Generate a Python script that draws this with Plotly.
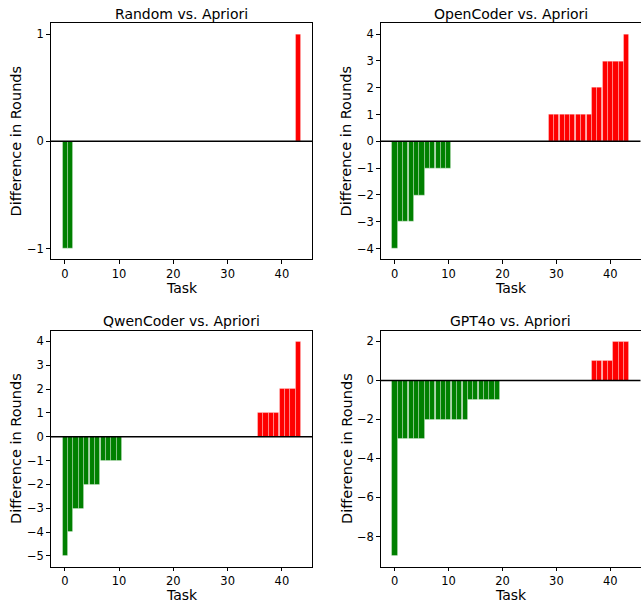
import plotly.graph_objects as go

tasks = list(range(44))

random_vs_apriori = [-1, -1, 0, 0, 0, 0, 0, 0, 0, 0, 0, 0, 0, 0, 0, 0, 0, 0, 0, 0, 0, 0,
                     0, 0, 0, 0, 0, 0, 0, 0, 0, 0, 0, 0, 0, 0, 0, 0, 0, 0, 0, 0, 0, 1]
opencoder_vs_apriori = [-4, -3, -3, -3, -2, -2, -1, -1, -1, -1, -1, 0, 0, 0, 0, 0, 0, 0, 0, 0, 0, 0,
                        0, 0, 0, 0, 0, 0, 0, 1, 1, 1, 1, 1, 1, 1, 1, 2, 2, 3, 3, 3, 3, 4]
qwencoder_vs_apriori = [-5, -4, -3, -3, -2, -2, -2, -1, -1, -1, -1, 0, 0, 0, 0, 0, 0, 0, 0, 0, 0, 0,
                        0, 0, 0, 0, 0, 0, 0, 0, 0, 0, 0, 0, 0, 0, 1, 1, 1, 1, 2, 2, 2, 4]
gpt4o_vs_apriori = [-9, -3, -3, -3, -3, -3, -2, -2, -2, -2, -2, -2, -2, -2, -1, -1, -1, -1, -1, -1, 0, 0,
                    0, 0, 0, 0, 0, 0, 0, 0, 0, 0, 0, 0, 0, 0, 0, 1, 1, 1, 1, 2, 2, 2]

titles = ["Random vs. Apriori", "OpenCoder vs. Apriori", "QwenCoder vs. Apriori", "GPT4o vs. Apriori"]
series = [random_vs_apriori, opencoder_vs_apriori, qwencoder_vs_apriori, gpt4o_vs_apriori]
y_ranges = [[-1.1, 1.1], [-4.4, 4.4], [-5.45, 4.45], [-9.55, 2.55]]
y_dticks = [1, 1, 1, 2]
x_label_text = "Task"
y_label_text = "Difference in Rounds"

W, H = 641, 602
# axes boxes in pixels: (left, right, top, bottom)
boxes = [(50.7, 312.3, 23.3, 259.3), (380.7, 640.5, 23.3, 259.3),
         (50.7, 312.3, 330.7, 566.7), (380.7, 640.5, 330.7, 566.7)]

FONT = "DejaVu Sans"
fig = go.Figure()
annotations = []
shapes = []
for i, (vals, title, yr, dt, box) in enumerate(zip(series, titles, y_ranges, y_dticks, boxes)):
    n = "" if i == 0 else str(i + 1)
    colors = ["green" if v < 0 else "red" for v in vals]
    fig.add_trace(go.Bar(x=tasks, y=vals, width=0.95,
                         marker=dict(color=colors, line=dict(width=0.3, color="white")),
                         xaxis="x" + n, yaxis="y" + n, showlegend=False))
    l, r, t, b = box
    xd = [l / W, r / W]
    yd = [1 - b / H, 1 - t / H]
    axcommon = dict(showline=True, linecolor="black", linewidth=1, mirror=True,
                    ticks="outside", ticklen=3.5, tickcolor="black", tickwidth=1,
                    showgrid=False, zeroline=False,
                    tickfont=dict(family=FONT, size=11.5, color="black"))
    fig.update_layout(**{
        "xaxis" + n: dict(domain=xd, range=[-2.6, 45.6], tickmode="linear", tick0=0, dtick=10,
                          anchor="y" + n, **axcommon),
        "yaxis" + n: dict(domain=yd, range=yr, tickmode="linear", tick0=0, dtick=dt,
                          anchor="x" + n, **axcommon),
    })
    shapes.append(dict(type="line", xref="x" + n + " domain", yref="y" + n, x0=0, x1=1, y0=0, y1=0,
                       line=dict(color="black", width=1.5), layer="above"))
    cx = (l + r) / 2 / W
    annotations.append(dict(text=title, x=cx, y=1 - (t - 9.5) / H, xref="paper", yref="paper",
                            showarrow=False, xanchor="center", yanchor="middle",
                            font=dict(family=FONT, size=14, color="black")))
    annotations.append(dict(text=x_label_text, x=cx, y=1 - (b + 28.5) / H, xref="paper", yref="paper",
                            showarrow=False, xanchor="center", yanchor="middle",
                            font=dict(family=FONT, size=14, color="black")))
    annotations.append(dict(text=y_label_text, x=(l - 34.5) / W, y=1 - (t + b) / 2 / H,
                            xref="paper", yref="paper", textangle=-90,
                            showarrow=False, xanchor="center", yanchor="middle",
                            font=dict(family=FONT, size=14.5, color="black")))

fig.update_layout(width=W, height=H, margin=dict(l=0, r=0, t=0, b=0),
                  paper_bgcolor="white", plot_bgcolor="white",
                  annotations=annotations, shapes=shapes, bargap=0)
fig.write_html("out.html")
